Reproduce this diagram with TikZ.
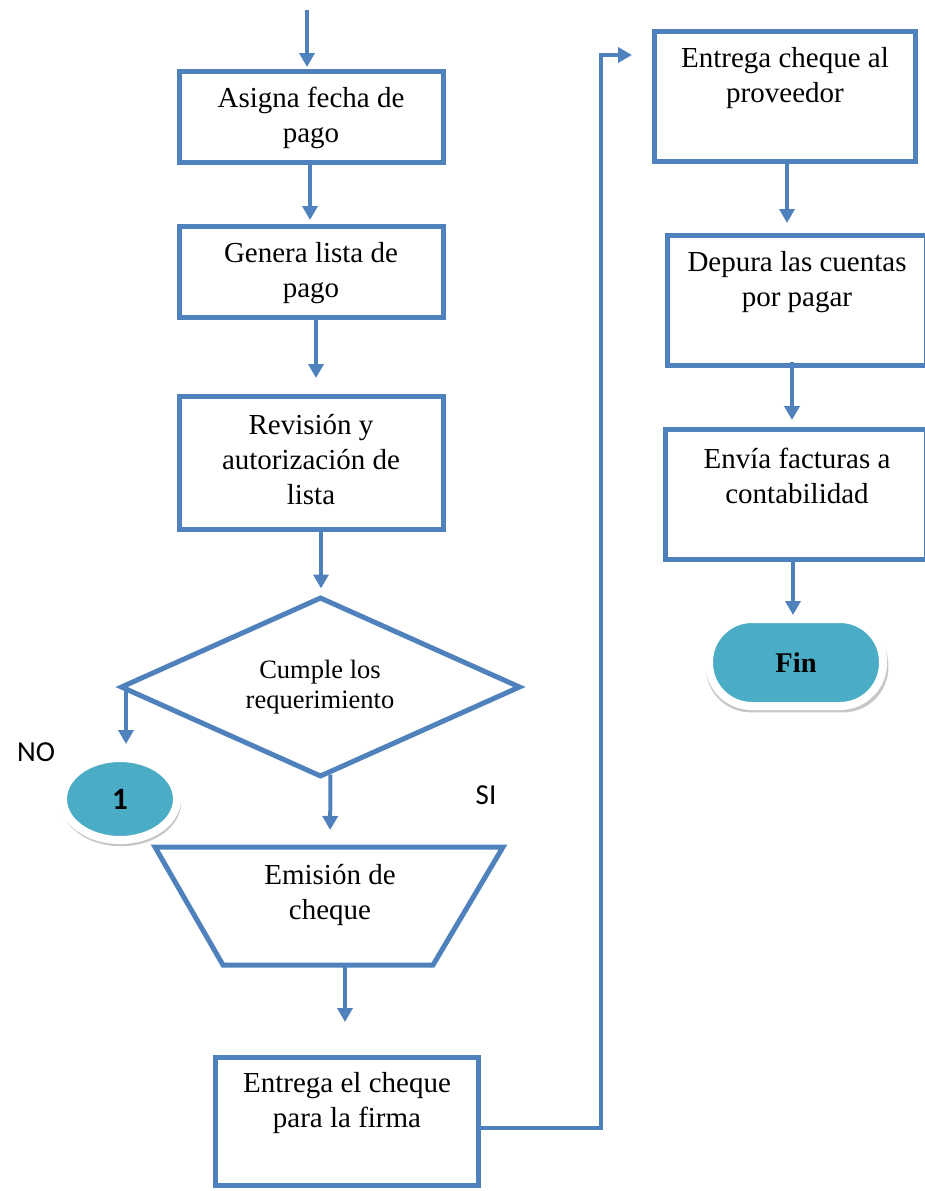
\documentclass[tikz,border=0pt]{standalone}
\usepackage{fontspec}
\setmainfont{Liberation Serif}
\newfontfamily\carl{Carlito}
\usetikzlibrary{arrows.meta,shapes.geometric,shadows,calc}
\definecolor{bl}{HTML}{4F81BD}
\definecolor{tl}{HTML}{4BACC6}
\tikzset{
 box/.style={draw=bl, line width=5pt, rectangle, inner sep=0pt},
 txt/.style={align=center, font=\fontsize{29}{35}\selectfont, inner sep=0pt},
 arr/.style={draw=bl, line width=4pt, -{Triangle[width=15pt,length=14pt]}},
 lbl/.style={font=\carl\fontsize{29}{34}\selectfont, inner sep=0pt},
 term/.style={fill=tl, draw=white, line width=8pt, inner sep=0pt,
   drop shadow={shadow xshift=1pt, shadow yshift=-4pt, opacity=0.22, fill=black, shadow scale=1.05}}
}
\begin{document}
\begin{tikzpicture}[x=1pt,y=-1pt]
\useasboundingbox (0,0) rectangle (925,1191);
\clip (0,0) rectangle (925,1191);
% left column boxes
\node[box, minimum width=264pt, minimum height=91pt] (b1) at (311.5,117) {};
\node[txt] (t1) at (311,118) {Asigna fecha de\\pago};
\node[box, minimum width=264pt, minimum height=91pt] (b2) at (311.5,272) {};
\node[txt] (t2) at (311,273) {Genera lista de\\pago};
\node[box, minimum width=264pt, minimum height=133pt] (b3) at (311.5,463) {};
\node[txt] (t3) at (311,460) {Revisión y\\autorización de\\lista};
% decision
\node[draw=bl, line width=5pt, diamond, minimum width=400pt, minimum height=180pt, inner sep=0pt] (dia) at (320.5,687) {};
\node[align=center, inner sep=0pt, font=\fontsize{26.5}{30}\selectfont] (dt) at (320,687) {Cumple los\\requerimiento};
% connector 1
\node[term, ellipse, minimum width=114pt, minimum height=82pt, font=\carl\bfseries\fontsize{31}{34}\selectfont] (c1) at (120,799) {1};
\node[lbl] (no) at (36,752) {NO};
\node[lbl] (si) at (486,795) {SI};
% trapezoid
\coordinate (tA) at (155,847);
\coordinate (tB) at (503,847);
\coordinate (tC) at (433,965);
\coordinate (tD) at (223,965);
\draw[draw=bl, line width=5pt] (tA) -- (tB) -- (tC) -- (tD) -- cycle;
\coordinate (trtop) at (330,847);
\coordinate (trbot) at (345,965);
\node[txt] (t4) at (330,895) {Emisión de\\cheque};
% bottom box
\node[box, minimum width=263pt, minimum height=128pt] (b5) at (347,1121.5) {};
\node[txt] (t5) at (347,1103) {Entrega el cheque\\para la firma};
% right column
\node[box, minimum width=261pt, minimum height=130pt] (r1) at (785,96.5) {};
\node[txt] (tr1) at (785,78) {Entrega cheque al\\proveedor};
\node[box, minimum width=259pt, minimum height=130pt] (r2) at (797,300.5) {};
\node[txt] (tr2) at (797,282) {Depura las cuentas\\por pagar};
\node[box, minimum width=261pt, minimum height=130pt] (r3) at (796,494.5) {};
\node[txt] (tr3) at (797,476) {Envía facturas a\\contabilidad};
\node[term, rectangle, rounded corners=43pt, minimum width=174pt, minimum height=87pt, font=\bfseries\fontsize{28.5}{32}\selectfont] (fin) at (796,662.5) {Fin};
% connectors
\coordinate (start) at (307,10);
\draw[arr, shorten >=2pt] (start) -- (b1.north -| start);
\draw[arr, shorten >=4pt] (b1.south -| 310,0) -- (b2.north -| 310,0);
\draw[arr, shorten >=16pt] (b2.south -| 316,0) -- (b3.north -| 316,0);
\draw[arr, shorten >=6pt] (b3.south -| 321,0) -- (dia.north -| 321,0);
\draw[arr, shorten >=10pt] (dia.west -| 126,0) -- (c1.north -| 126,0);
\draw[arr, shorten >=17pt] ($(dia.south)+(10,-5)$) -- (trtop);
\draw[arr, shorten >=33pt] (trbot) -- (b5.north -| trbot);
\draw[arr, line width=3.5pt, shorten >=20pt] ($(b5.east)+(0,6.5)$) -| (601,55) -- (r1.west |- 0,55);
\draw[arr, shorten >=10pt] (r1.south -| 787,0) -- (r2.north -| 787,0);
\draw[arr, shorten >=7pt] ($(r2.south -| 792,0)+(0,-6)$) -- (r3.north -| 792,0);
\draw[arr] (r3.south -| 793,0) -- (fin.north -| 793,0);
\end{tikzpicture}
\end{document}
